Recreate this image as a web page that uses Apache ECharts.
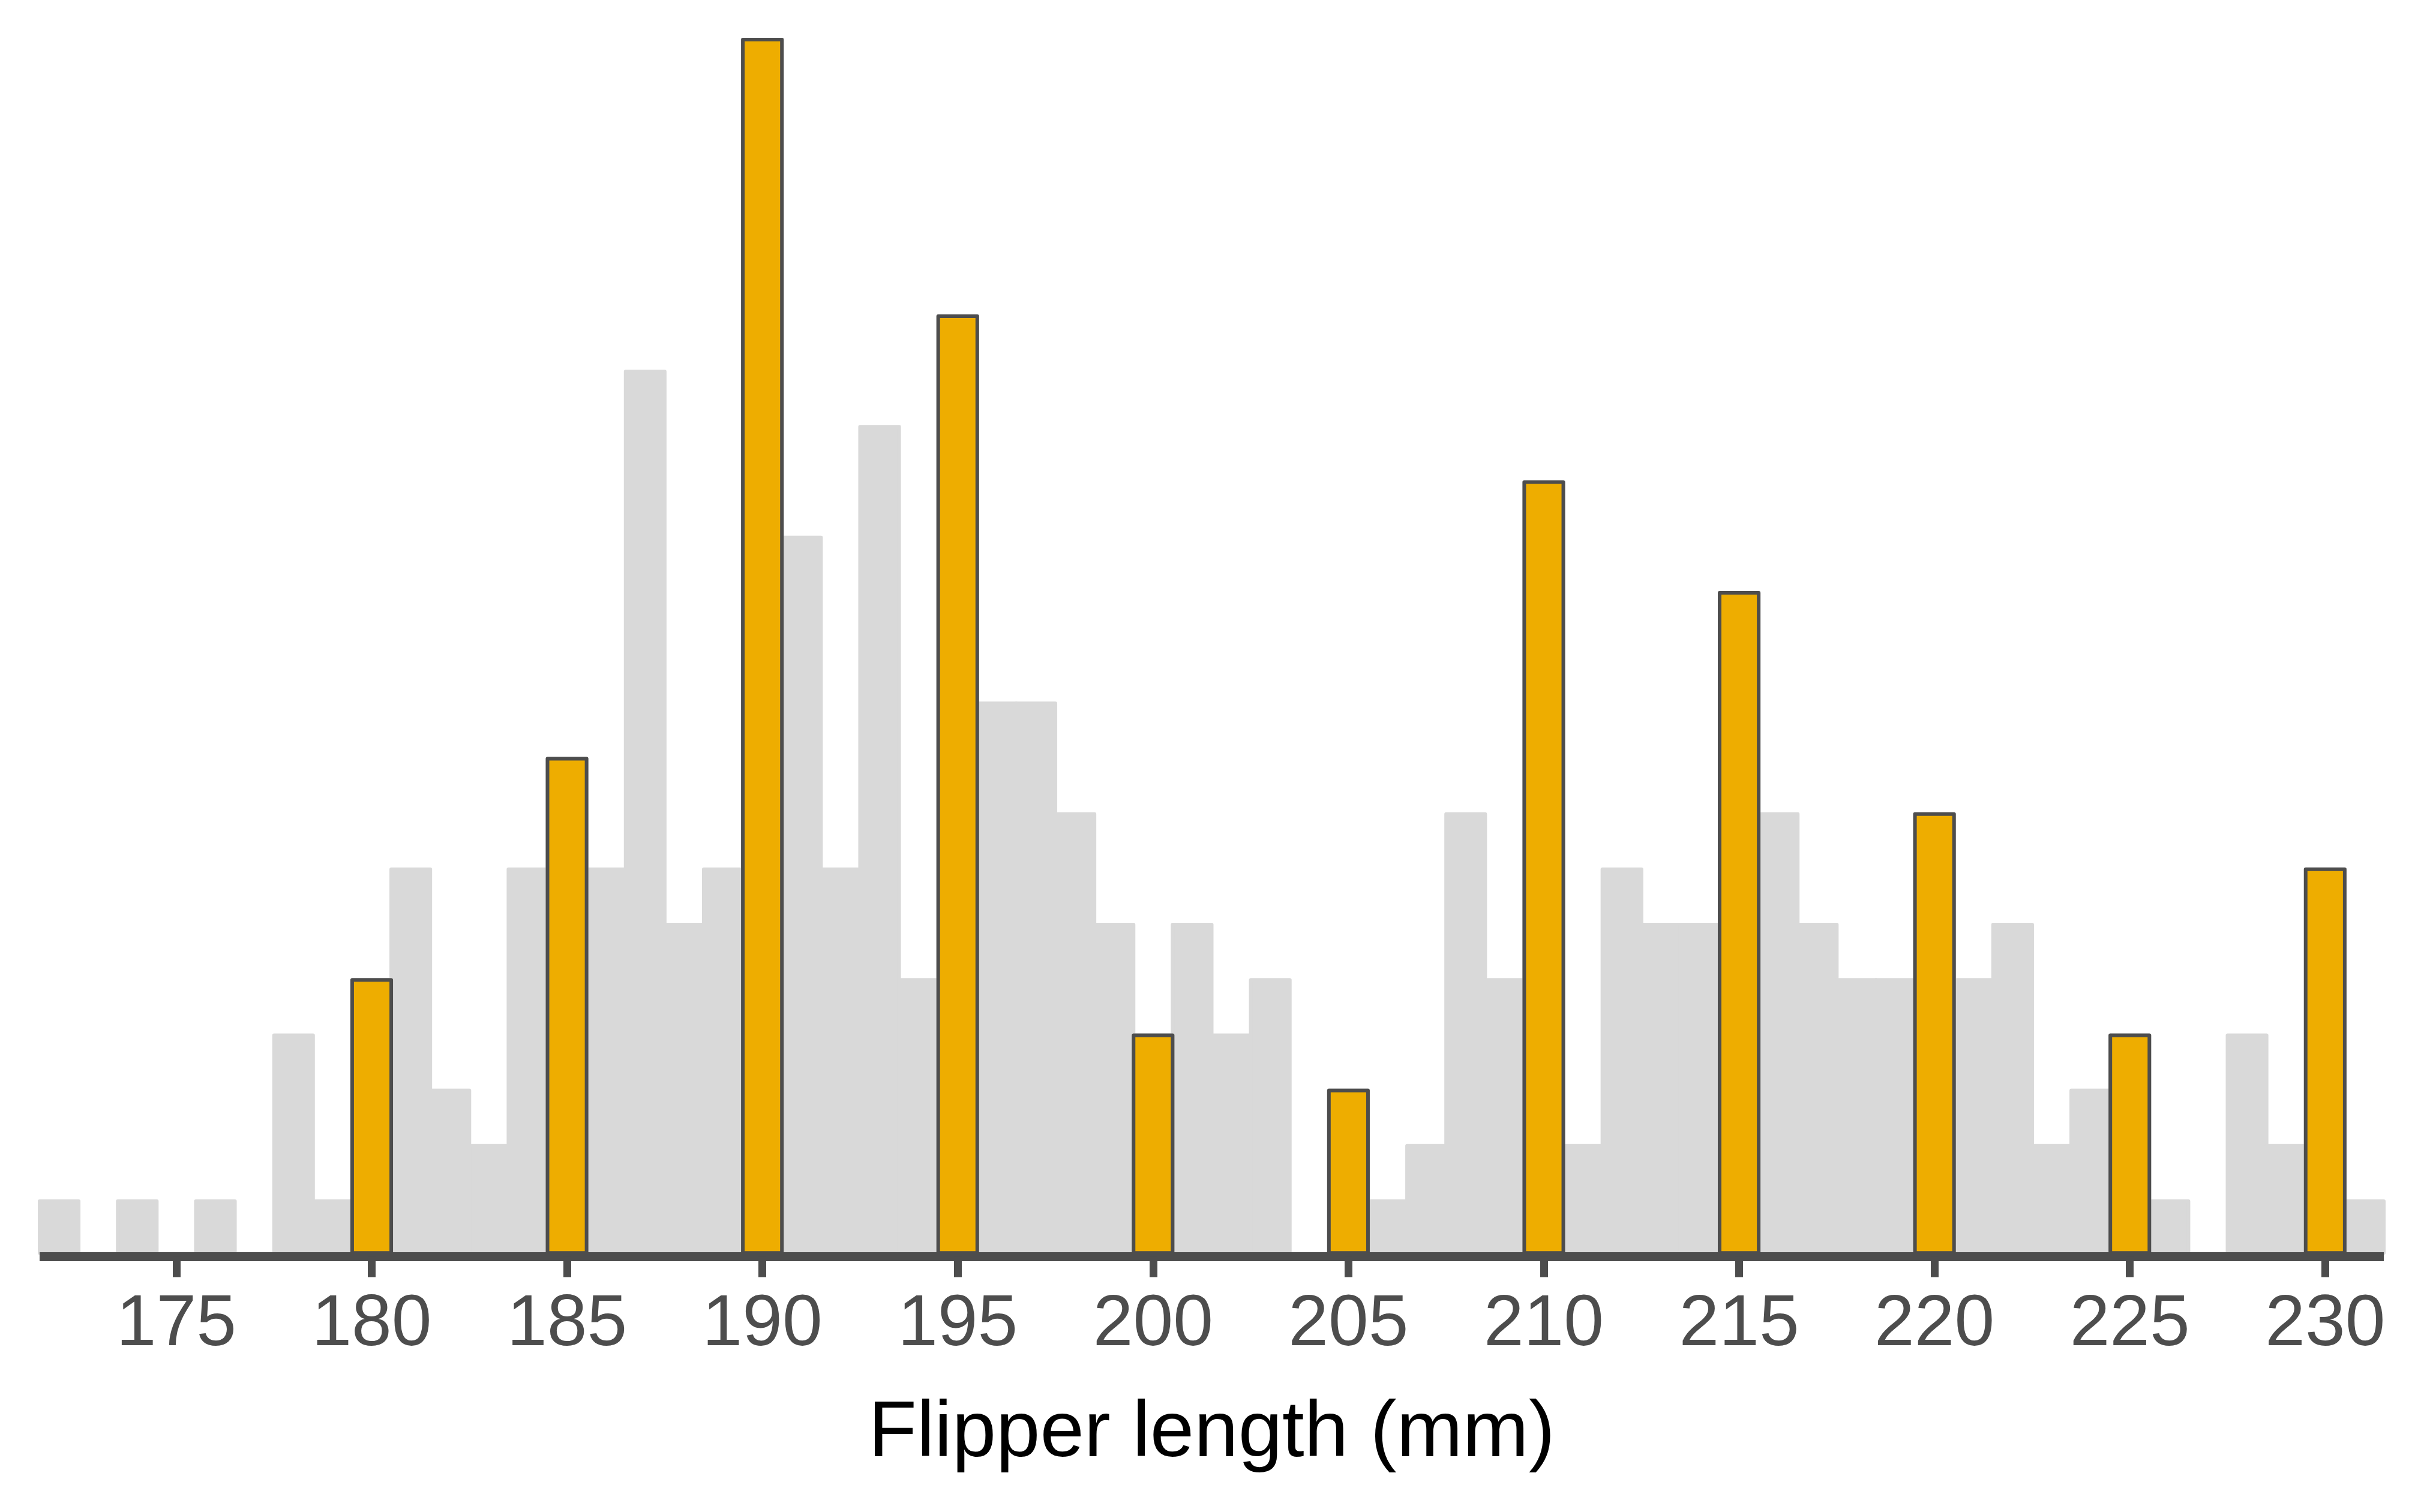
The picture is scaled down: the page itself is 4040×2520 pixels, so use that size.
<!DOCTYPE html>
<html>
<head>
<meta charset="utf-8">
<script src="https://cdn.jsdelivr.net/npm/echarts@6/dist/echarts.min.js"></script>
<style>
html,body{margin:0;padding:0;background:#fff;}
#chart{width:4040px;height:2520px;}
</style>
</head>
<body>
<div id="chart"></div>
<script>
const categories = [172,173,174,175,176,177,178,179,180,181,182,183,184,185,186,187,188,189,190,191,192,193,194,195,196,197,198,199,200,201,202,203,204,205,206,207,208,209,210,211,212,213,214,215,216,217,218,219,220,221,222,223,224,225,226,227,228,229,230,231];
const counts = [1,0,1,0,1,0,4,1,5,7, 3,2,7,9,7,16,6,7,22,13, 7,15,5,17,10,10,8,6,4,6, 4,5,0,3,1,2,8,5,14,2, 7,6,6,12,8,6,5,5,8,5, 6,2,3,4,1,0,4,2,7,1];
const highlighted = [180,185,190,195,200,205,210,215,220,225,230];
const tickValues = [175,180,185,190,195,200,205,210,215,220,225,230];
const xTitle = 'Flipper length (mm)';

const grayData = counts.map(v => v === 0 ? '-' : v);
const orangeData = categories.map((c, i) => highlighted.includes(c) ? counts[i] : '-');
const isTick = (idx, val) => tickValues.includes(Number(val));

const W = 4040, H = 2520;
const gridLeft = 66, gridRight = 67;
const catW = (W - gridLeft - gridRight) / categories.length;
const stroke = 6;

const chart = echarts.init(document.getElementById('chart'), null, {renderer: 'canvas'});
chart.setOption({
  animation: false,
  backgroundColor: '#ffffff',
  grid: {left: gridLeft, right: gridRight, top: 63, bottom: 425.5, containLabel: false},
  xAxis: {
    type: 'category',
    data: categories.map(String),
    boundaryGap: true,
    z: 10,
    axisLine: {show: true, onZero: false, lineStyle: {color: '#4d4d4d', width: 15, cap: 'butt'}},
    axisTick: {show: true, alignWithLabel: true, interval: isTick, length: 34, lineStyle: {color: '#4d4d4d', width: 13}},
    axisLabel: {show: true, interval: isTick, margin: 54, color: '#4d4d4d', fontSize: 120, fontFamily: 'Liberation Sans'},
    splitLine: {show: false},
    name: xTitle,
    nameLocation: 'middle',
    nameGap: 230,
    nameTextStyle: {color: '#000000', fontSize: 132, fontFamily: 'Liberation Sans'}
  },
  yAxis: {
    type: 'value', min: -0.036, max: 22, show: false,
    splitLine: {show: false}
  },
  series: [
    {
      type: 'bar', data: grayData, barWidth: catW + stroke, barGap: '-100%', z: 2,
      itemStyle: {color: '#d9d9d9', borderColor: '#d9d9d9', borderWidth: stroke, borderJoin: 'round'},
      silent: true
    },
    {
      type: 'bar', data: orangeData, barWidth: catW + stroke, barGap: '-100%', z: 3,
      itemStyle: {color: '#eead00', borderColor: '#4d4d4d', borderWidth: stroke, borderJoin: 'round'},
      silent: true
    }
  ]
});
</script>
</body>
</html>
